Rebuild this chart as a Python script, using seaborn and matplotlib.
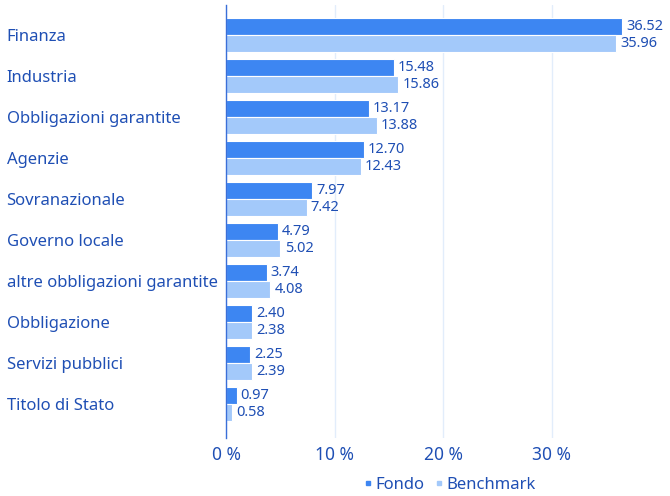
import pandas as pd
import matplotlib
matplotlib.use("Agg")
import matplotlib.pyplot as plt
import seaborn as sns
from matplotlib.lines import Line2D

categorie = ["Finanza", "Industria", "Obbligazioni garantite", "Agenzie", "Sovranazionale",
             "Governo locale", "altre obbligazioni garantite", "Obbligazione",
             "Servizi pubblici", "Titolo di Stato"]
fondo = [36.52, 15.48, 13.17, 12.70, 7.97, 4.79, 3.74, 2.40, 2.25, 0.97]
benchmark = [35.96, 15.86, 13.88, 12.43, 7.42, 5.02, 4.08, 2.38, 2.39, 0.58]
serie = ["Fondo", "Benchmark"]
tick_x = [0, 10, 20, 30]

c_fondo = "#3d86f2"
c_bench = "#a3c9fa"
c_text = "#1f4fb4"

df = pd.DataFrame({
    "cat": categorie * 2,
    "val": fondo + benchmark,
    "serie": [serie[0]] * len(fondo) + [serie[1]] * len(benchmark),
})

sns.set_style("white")
plt.rcParams["font.family"] = ["Noto Sans", "DejaVu Sans"]

fig = plt.figure(figsize=(6.7, 4.96), dpi=100)
ax = fig.add_axes([226 / 670, 1 - 438 / 496, (660 - 226) / 670, (438 - 5) / 496])

sns.barplot(data=df, y="cat", x="val", hue="serie", orient="h", ax=ax,
            palette=[c_fondo, c_bench], saturation=1, width=0.82, edgecolor="white",
            linewidth=0.8, legend=False)

for cont in ax.containers:
    ax.bar_label(cont, fmt="%.2f", padding=3, color=c_text, fontsize=10.5)

ax.set_xlim(0, 40)
ax.set_ylim(9.83, -0.73)
ax.set_xticks(tick_x)
ax.set_xticklabels([f"{t} %" for t in tick_x])
ax.set_xlabel("")
ax.set_ylabel("")
ax.grid(axis="x", color="#e2edfb", linewidth=1)
ax.set_axisbelow(True)
for s in ["top", "right", "bottom"]:
    ax.spines[s].set_visible(False)
ax.spines["left"].set_color("#3a6fd8")
ax.spines["left"].set_linewidth(1)

ax.tick_params(axis="y", length=0, pad=158, labelsize=12, labelcolor=c_text)
ax.tick_params(axis="x", length=0, pad=6, labelsize=12.5, labelcolor=c_text)
for lab in ax.get_yticklabels():
    lab.set_horizontalalignment("left")

handles = [Line2D([], [], marker="s", linestyle="", color=c, markersize=3.5) for c in (c_fondo, c_bench)]
fig.legend(handles, serie, loc="center", bbox_to_anchor=(449 / 670, 1 - 485 / 496), ncol=2,
           frameon=False, fontsize=12, labelcolor=c_text, handletextpad=0.1, columnspacing=0.5,
           handlelength=0.7)

fig.savefig("out.png", dpi=100)
